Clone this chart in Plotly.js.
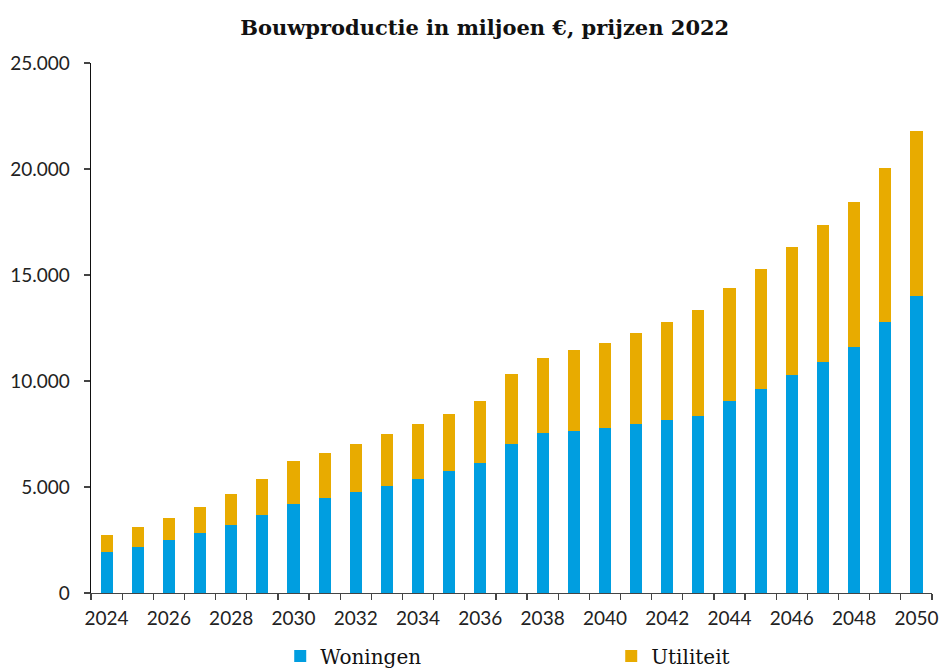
<!DOCTYPE html>
<html>
<head>
<meta charset="utf-8">
<script src="https://cdn.plot.ly/plotly-3.0.1.min.js"></script>
<style>html,body{margin:0;padding:0;background:#fff;}#chart{width:943px;height:668px;}</style>
</head>
<body>
<div id="chart"></div>
<script>
const years = [2024,2025,2026,2027,2028,2029,2030,2031,2032,2033,2034,2035,2036,2037,2038,2039,2040,2041,2042,2043,2044,2045,2046,2047,2048,2049,2050];
const totals = [2720,3100,3560,4075,4670,5360,6210,6600,7030,7490,7960,8460,9040,10320,11070,11450,11780,12250,12770,13340,14390,15300,16310,17350,18460,20050,21770];
const woningen = [1930,2170,2490,2830,3210,3670,4220,4480,4750,5070,5380,5760,6130,7030,7550,7660,7780,7960,8160,8370,9040,9640,10260,10900,11600,12770,14010];
const utiliteit = totals.map((t, i) => t - woningen[i]);
const tickYears = [2024,2026,2028,2030,2032,2034,2036,2038,2040,2042,2044,2046,2048,2050];
const yTicks = [0,5000,10000,15000,20000,25000];

const traces = [
  {type:'bar', name:'Woningen', x:years, y:woningen, width:0.39, marker:{color:'#009EE0'}, hoverinfo:'skip'},
  {type:'bar', name:'Utiliteit', x:years, y:utiliteit, width:0.39, marker:{color:'#E8AB00'}, hoverinfo:'skip'}
];

const layout = {
  width:943, height:668,
  barmode:'stack',
  separators:',.',
  paper_bgcolor:'#fff', plot_bgcolor:'#fff',
  margin:{l:91, r:11, t:63, b:75, autoexpand:false},
  title:{text:'<b>Bouwproductie in miljoen €, prijzen 2022</b>', font:{family:'DejaVu Serif', size:21, color:'#111'}, x:0.514, xanchor:'center', y:0.958, yanchor:'middle'},
  font:{family:'Lato, "Open Sans", sans-serif', size:19, color:'#222'},
  xaxis:{
    type:'linear', range:[2023.5, 2050.5], fixedrange:true,
    tickvals:tickYears, ticktext:tickYears.map(String), ticks:'', showgrid:false, zeroline:false,
    showline:true, linecolor:'#444', linewidth:1.3, ticklabelstandoff:8,
    minor:{ticks:'outside', tick0:2023.5, dtick:1, ticklen:6, tickcolor:'#444', tickwidth:1.3, showgrid:false},
    tickfont:{family:'Lato, sans-serif', size:19, color:'#222'}
  },
  yaxis:{
    range:[0,25000], tickvals:yTicks, tickformat:',d', ticks:'outside', ticklen:6, tickcolor:'#444', tickwidth:1.2,
    showgrid:false, zeroline:false, showline:true, linecolor:'#111', linewidth:1.3, ticklabelstandoff:10,
    tickfont:{family:'Lato, sans-serif', size:19, color:'#222'}, fixedrange:true
  },
  showlegend:true,
  legend:{orientation:'h', x:0.225, xanchor:'left', y:-0.119, yanchor:'middle', entrywidth:286, entrywidthmode:'pixels',
    font:{family:'DejaVu Serif', size:20, color:'#111'}, traceorder:'normal'}
};

Plotly.newPlot('chart', traces, layout, {displayModeBar:false, staticPlot:true});
</script>
</body>
</html>
